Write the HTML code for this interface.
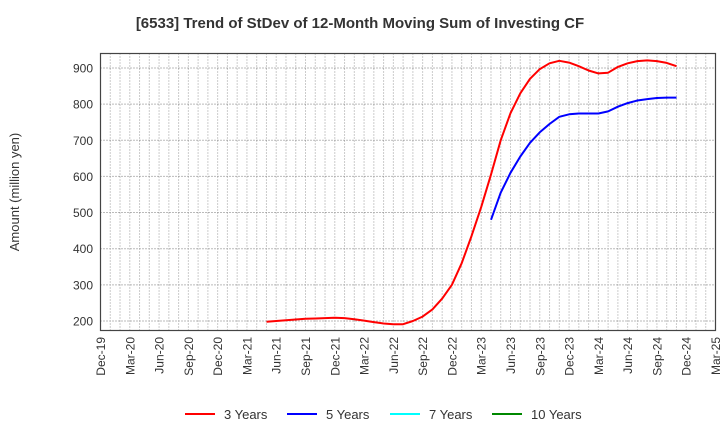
<!DOCTYPE html>
<html><head><meta charset="utf-8"><style>
body{margin:0;background:#fff;font-family:"Liberation Sans",Arial,sans-serif}
</style></head><body>
<svg width="720" height="440" xmlns="http://www.w3.org/2000/svg" font-family="Liberation Sans, Arial, sans-serif">
<text x="360" y="28" text-anchor="middle" font-size="15" font-weight="bold" fill="#333">[6533]  Trend of StDev of 12-Month Moving Sum of Investing CF</text>
<text transform="translate(19,192) rotate(-90)" text-anchor="middle" font-size="13" fill="#333">Amount (million yen)</text>
<g id="grid"></g>
<g id="series"></g>
<rect x="100.5" y="53.5" width="615" height="277" fill="none" stroke="#444" stroke-width="1.2"/>
<g id="axes"></g>
<g font-size="13" fill="#333">
<line x1="185" y1="414" x2="215" y2="414" stroke="#f00" stroke-width="2"/><text x="224" y="419">3 Years</text>
<line x1="287" y1="414" x2="317" y2="414" stroke="#00f" stroke-width="2"/><text x="326" y="419">5 Years</text>
<line x1="390" y1="414" x2="420" y2="414" stroke="#0ff" stroke-width="2"/><text x="429" y="419">7 Years</text>
<line x1="492" y1="414" x2="522" y2="414" stroke="#080" stroke-width="2"/><text x="531" y="419">10 Years</text>
</g>
</svg>
<script>
const xTickLabels=["Dec-19","Mar-20","Jun-20","Sep-20","Dec-20","Mar-21","Jun-21","Sep-21","Dec-21","Mar-22","Jun-22","Sep-22","Dec-22","Mar-23","Jun-23","Sep-23","Dec-23","Mar-24","Jun-24","Sep-24","Dec-24","Mar-25"];
const yTicks=[200,300,400,500,600,700,800,900];
const red3Start=17;
const red3=[198,200,202,204,206,207,208,209,208,205,201,197,193,191,191,200,212,232,262,300,360,435,515,605,700,775,830,870,897,913,920,915,905,893,885,887,903,913,919,921,919,914,905];
const blue5Start=40;
const blue5=[480,555,610,655,693,722,745,765,772,774,774,774,780,793,803,810,814,817,818,818];
const NS="http://www.w3.org/2000/svg";
const L=100.5,R=715.5,T=53.5,B=330.5;
function xs(m){return L+(R-L)*m/63;}
function ys(v){return 68+(900-v)*36.14/100;}
const grid=document.getElementById('grid'),axes=document.getElementById('axes'),ser=document.getElementById('series');
for(let m=1;m<63;m++){const l=document.createElementNS(NS,'line');


l.setAttribute('x1',xs(m));l.setAttribute('x2',xs(m));l.setAttribute('y1',T);l.setAttribute('y2',B);
l.setAttribute('stroke','#999');l.setAttribute('stroke-dasharray','1,2');grid.appendChild(l);}
yTicks.forEach(v=>{const l=document.createElementNS(NS,'line');


l.setAttribute('x1',L);l.setAttribute('x2',R);l.setAttribute('y1',ys(v));l.setAttribute('y2',ys(v));
l.setAttribute('stroke','#777');l.setAttribute('stroke-dasharray','1,2');grid.appendChild(l);
const t=document.createElementNS(NS,'text');


t.setAttribute('x',93);t.setAttribute('y',ys(v)+4.5);t.setAttribute('text-anchor','end');t.setAttribute('font-size','12');t.setAttribute('fill','#333');t.textContent=v;axes.appendChild(t);});
xTickLabels.forEach((s,i)=>{const x=xs(i*3);const t=document.createElementNS(NS,'text');


t.setAttribute('transform','translate('+(x+4.5)+',337) rotate(-90)');t.setAttribute('text-anchor','end');t.setAttribute('font-size','12');t.setAttribute('fill','#333');t.textContent=s;axes.appendChild(t);});
function line(arr,start,color,name){const p=document.createElementNS(NS,'polyline');


p.setAttribute('points',arr.map((v,i)=>xs(start+i).toFixed(1)+','+ys(v).toFixed(1)).join(' '));
p.setAttribute('fill','none');p.setAttribute('stroke',color);p.setAttribute('stroke-width','2');p.setAttribute('stroke-linejoin','round');ser.appendChild(p);}
line(red3,red3Start,'#f00','series-3-years');
line(blue5,blue5Start,'#00f','series-5-years');
</script>
</body></html>
